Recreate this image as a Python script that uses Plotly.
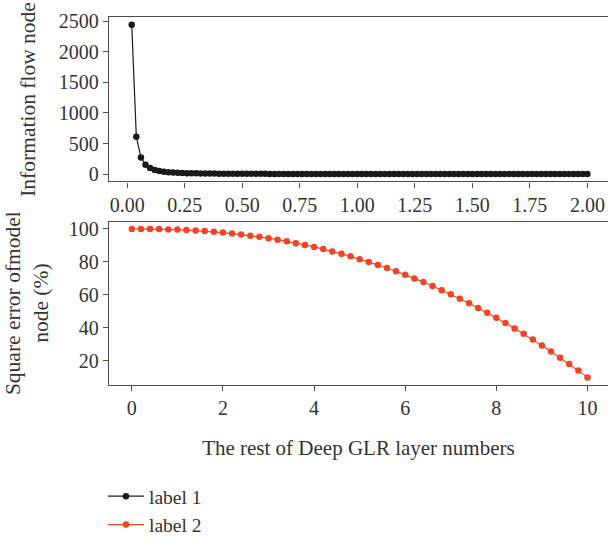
import plotly.graph_objects as go

# ---- data ----
x_top = [0.02, 0.04, 0.06, 0.08, 0.10, 0.12, 0.14, 0.16, 0.18, 0.20,
         0.22, 0.24, 0.26, 0.28, 0.30, 0.32, 0.34, 0.36, 0.38, 0.40,
         0.42, 0.44, 0.46, 0.48, 0.50, 0.52, 0.54, 0.56, 0.58, 0.60,
         0.62, 0.64, 0.66, 0.68, 0.70, 0.72, 0.74, 0.76, 0.78, 0.80,
         0.82, 0.84, 0.86, 0.88, 0.90, 0.92, 0.94, 0.96, 0.98, 1.00,
         1.02, 1.04, 1.06, 1.08, 1.10, 1.12, 1.14, 1.16, 1.18, 1.20,
         1.22, 1.24, 1.26, 1.28, 1.30, 1.32, 1.34, 1.36, 1.38, 1.40,
         1.42, 1.44, 1.46, 1.48, 1.50, 1.52, 1.54, 1.56, 1.58, 1.60,
         1.62, 1.64, 1.66, 1.68, 1.70, 1.72, 1.74, 1.76, 1.78, 1.80,
         1.82, 1.84, 1.86, 1.88, 1.90, 1.92, 1.94, 1.96, 1.98, 2.00]
y_top = [2442, 610, 271, 153, 98, 68, 50, 38, 30, 24,
         20, 17, 14, 12, 11, 9.5, 8.5, 7.5, 6.8, 6.1,
         5.5, 5.0, 4.6, 4.2, 3.9, 3.6, 3.4, 3.1, 2.9, 2.7,
         2.5, 2.4, 2.2, 2.1, 2.0, 1.9, 1.8, 1.7, 1.6, 1.5,
         1.45, 1.4, 1.3, 1.25, 1.2, 1.15, 1.1, 1.06, 1.02, 0.98,
         0.94, 0.9, 0.87, 0.84, 0.81, 0.78, 0.75, 0.73, 0.7, 0.68,
         0.66, 0.64, 0.62, 0.6, 0.58, 0.56, 0.54, 0.53, 0.51, 0.5,
         0.48, 0.47, 0.46, 0.45, 0.43, 0.42, 0.41, 0.4, 0.39, 0.38,
         0.37, 0.36, 0.35, 0.35, 0.34, 0.33, 0.32, 0.32, 0.31, 0.3,
         0.29, 0.29, 0.28, 0.28, 0.27, 0.27, 0.26, 0.25, 0.25, 0.24]

x_bot = [0.0, 0.2, 0.4, 0.6, 0.8, 1.0, 1.2, 1.4, 1.6, 1.8,
         2.0, 2.2, 2.4, 2.6, 2.8, 3.0, 3.2, 3.4, 3.6, 3.8,
         4.0, 4.2, 4.4, 4.6, 4.8, 5.0, 5.2, 5.4, 5.6, 5.8,
         6.0, 6.2, 6.4, 6.6, 6.8, 7.0, 7.2, 7.4, 7.6, 7.8,
         8.0, 8.2, 8.4, 8.6, 8.8, 9.0, 9.2, 9.4, 9.6, 9.8, 10.0]
y_bot = [100.0, 100.0, 100.0, 99.9, 99.7, 99.6, 99.3, 99.0, 98.7, 98.3,
         97.8, 97.2, 96.6, 95.9, 95.2, 94.4, 93.5, 92.5, 91.4, 90.3,
         89.1, 87.8, 86.4, 84.9, 83.4, 81.7, 80.0, 78.2, 76.3, 74.3,
         72.2, 70.0, 67.8, 65.4, 62.9, 60.4, 57.7, 55.0, 52.1, 49.2,
         46.1, 43.0, 39.7, 36.4, 32.9, 29.4, 25.7, 21.9, 18.1, 14.1, 10.0]

top_xticks = [0.0, 0.25, 0.5, 0.75, 1.0, 1.25, 1.5, 1.75, 2.0]
top_xlabels = ["0.00", "0.25", "0.50", "0.75", "1.00", "1.25", "1.50", "1.75", "2.00"]
top_yticks = [0, 500, 1000, 1500, 2000, 2500]
bot_xticks = [0, 2, 4, 6, 8, 10]
bot_yticks = [20, 40, 60, 80, 100]

names = ["label 1", "label 2"]
colors = ["#1a1a1a", "#f04426"]

FONT = "Liberation Serif"
AX = "#4d4d4d"
TXT = "#333333"

fig = go.Figure()
fig.add_trace(go.Scatter(x=x_top, y=y_top, mode="lines+markers", name=names[0],
                         line=dict(color=colors[0], width=1.2),
                         marker=dict(color=colors[0], size=6.5),
                         xaxis="x", yaxis="y", legendgroup="a"))
fig.add_trace(go.Scatter(x=x_bot, y=y_bot, mode="lines+markers", name=names[1],
                         line=dict(color=colors[1], width=1.2),
                         marker=dict(color=colors[1], size=6.5),
                         xaxis="x2", yaxis="y2", legendgroup="b"))

axcommon = dict(showgrid=False, zeroline=False, showline=True, linecolor=AX, linewidth=1.2,
                ticks="outside", ticklen=5, tickcolor=AX, tickwidth=1.2,
                ticklabeloverflow="allow",
                tickfont=dict(family=FONT, size=20, color=TXT))

fig.update_layout(
    width=608, height=544,
    margin=dict(l=0, r=0, t=0, b=0),
    paper_bgcolor="white", plot_bgcolor="white",
    font=dict(family=FONT, size=20, color=TXT),
    xaxis=dict(domain=[0.179, 1.0], anchor="y", range=[-0.0795, 2.0896],
               tickvals=top_xticks, ticktext=top_xlabels, mirror=True, **axcommon),
    yaxis=dict(domain=[0.667, 0.980], anchor="x", range=[-122, 2563],
               tickvals=top_yticks,
               title=dict(text="Information flow node", standoff=17,
                          font=dict(family=FONT, size=21.5, color=TXT)),
               **axcommon),
    xaxis2=dict(domain=[0.179, 1.0], anchor="y2", range=[-0.505, 10.45],
                tickvals=bot_xticks, mirror=True,
                title=dict(text="The rest of Deep GLR layer numbers", standoff=22,
                           font=dict(family=FONT, size=21, color=TXT)),
                **axcommon),
    yaxis2=dict(domain=[0.279, 0.5906], anchor="x2", range=[5.5, 104.5],
                tickvals=bot_yticks,
                title=dict(text="Square error ofmodel<br>node (%)", standoff=14,
                           font=dict(family=FONT, size=21.5, color=TXT)),
                **axcommon),
    showlegend=True,
    legend=dict(x=0.1694, y=0.103, xanchor="left", yanchor="top",
                traceorder="grouped", tracegroupgap=0, itemwidth=36,
                font=dict(family=FONT, size=19.5, color=TXT),
                bgcolor="rgba(0,0,0,0)"),
)

fig.write_html("out.html", config={"displayModeBar": False},
               post_script="document.body.style.margin='0';document.body.style.overflow='hidden';")
